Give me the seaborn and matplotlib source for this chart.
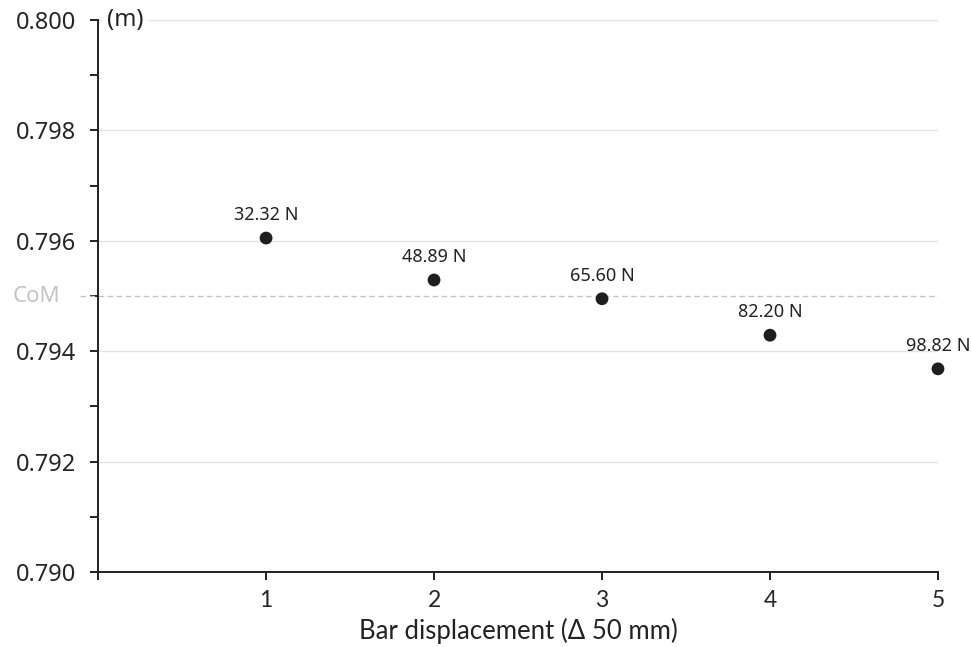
import numpy as np
import pandas as pd
import matplotlib
matplotlib.use("Agg")
import matplotlib.pyplot as plt
import seaborn as sns

# data
displacement = [1, 2, 3, 4, 5]
com_height = [0.79605, 0.79529, 0.79495, 0.79429, 0.79368]
force_labels = ["32.32 N", "48.89 N", "65.60 N", "82.20 N", "98.82 N"]
com_ref = 0.7950

df = pd.DataFrame({"x": displacement, "y": com_height, "lab": force_labels})

sns.set_style("white")
plt.rcParams["font.family"] = ["Noto Sans", "DejaVu Sans"]

fig = plt.figure(figsize=(9.71, 6.47), dpi=100)
ax = fig.add_axes([0.101, 0.116, 0.865, 0.853])

ax.set_xlim(0, 5)
ax.set_ylim(0.790, 0.800)
ax.set_yticks(np.arange(0.790, 0.8001, 0.002))
ax.set_yticks(np.arange(0.791, 0.8, 0.002), minor=True)
ax.set_yticklabels([f"{v:.3f}" for v in np.arange(0.790, 0.8001, 0.002)])
ax.set_xticks([0, 1, 2, 3, 4, 5])
ax.set_xticklabels(["", "1", "2", "3", "4", "5"], fontfamily="Lato")

ax.grid(axis="y", which="major", color="#e3e3e3", lw=1)
ax.set_axisbelow(True)
sns.despine(ax=ax)
for s in ["left", "bottom"]:
    ax.spines[s].set_color("#222222")
    ax.spines[s].set_linewidth(1.4)

ax.tick_params(axis="y", which="both", direction="out", length=6, width=1.4,
               color="#222222", labelsize=17, pad=10, left=True)
ax.tick_params(axis="x", which="both", direction="out", length=6, width=1.4,
               color="#222222", labelsize=16.5, pad=7, bottom=True)

# CoM reference line
ax.plot([-0.021, 1.0], [com_ref, com_ref], transform=ax.get_yaxis_transform(),
        ls=(0, (4, 2.5)), color="#c4c4c4", lw=1, clip_on=False, zorder=1)
ax.text(-0.045, com_ref, "CoM", transform=ax.get_yaxis_transform(),
        ha="right", va="center", fontsize=16, color="#c4c4c4")

sns.scatterplot(data=df, x="x", y="y", ax=ax, s=85, color="#1e1e1e",
                edgecolor="none", clip_on=False, zorder=5)

for xv, yv, lab in zip(df["x"], df["y"], df["lab"]):
    ax.annotate(lab, (xv, yv), xytext=(0, 10), textcoords="offset points",
                ha="center", va="bottom", fontsize=13, color="#222222")

ax.text(0.011, 1.0, "(m)", transform=ax.transAxes, ha="left", va="center",
        fontsize=17, color="#222222",
        bbox=dict(facecolor="white", edgecolor="none", pad=4))

ax.set_xlabel("Bar displacement (\u0394 50 mm)", fontsize=18.5, fontfamily="Lato",
              color="#222222", labelpad=5)
ax.set_ylabel("")

fig.savefig("out.png", dpi=100)
